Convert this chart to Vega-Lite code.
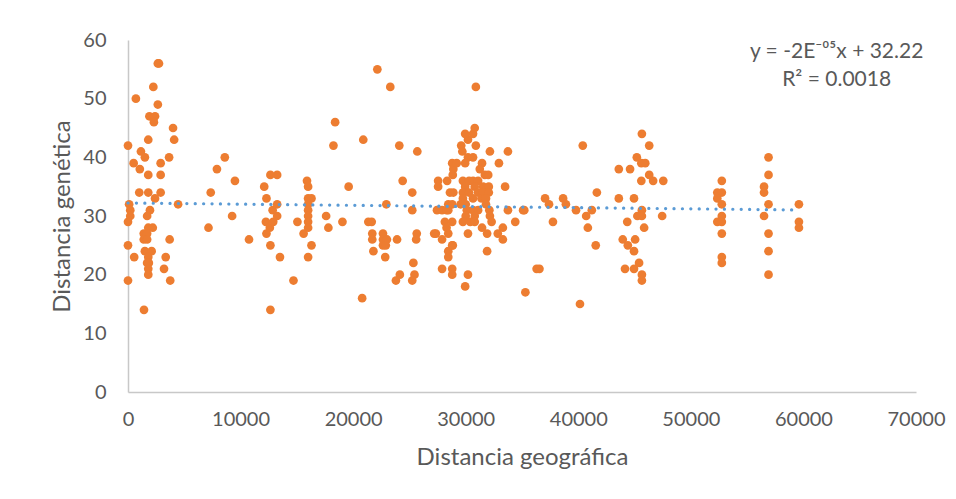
{
  "$schema": "https://vega.github.io/schema/vega-lite/v6.json",
  "width": 788,
  "height": 352,
  "autosize": {"type": "none"},
  "padding": {"left": 128, "top": 40, "right": 40, "bottom": 107},
  "background": "white",
  "config": {"view": {"stroke": null}, "font": "Lato"},
  "datasets": {
    "points": [
      {"geo":0,"gen":42},{"geo":100,"gen":32},{"geo":200,"gen":31},{"geo":200,"gen":30},{"geo":0,"gen":29},{"geo":0,"gen":25},{"geo":0,"gen":19},
      {"geo":700,"gen":50},{"geo":500,"gen":39},{"geo":550,"gen":23},{"geo":1150,"gen":41},{"geo":1500,"gen":40},{"geo":1050,"gen":38},{"geo":1000,"gen":34},
      {"geo":1800,"gen":34},{"geo":1800,"gen":37},{"geo":1800,"gen":43},{"geo":1900,"gen":47},{"geo":2400,"gen":47},{"geo":2250,"gen":52},{"geo":2300,"gen":46},
      {"geo":2650,"gen":49},{"geo":2650,"gen":56},{"geo":2750,"gen":56},{"geo":2400,"gen":33},{"geo":2900,"gen":34},{"geo":2900,"gen":39},{"geo":2900,"gen":37},
      {"geo":1950,"gen":31},{"geo":1700,"gen":30},{"geo":1800,"gen":28},{"geo":2200,"gen":28},{"geo":1400,"gen":27},{"geo":1700,"gen":27},{"geo":1400,"gen":26},
      {"geo":1700,"gen":26},{"geo":1500,"gen":24},{"geo":2100,"gen":24},{"geo":1800,"gen":23},{"geo":1700,"gen":22},{"geo":1850,"gen":22},{"geo":1800,"gen":21},
      {"geo":1800,"gen":20},{"geo":1420,"gen":14},{"geo":3650,"gen":40},{"geo":4000,"gen":45},{"geo":4100,"gen":43},{"geo":4450,"gen":32},{"geo":3700,"gen":26},
      {"geo":3350,"gen":23},{"geo":3200,"gen":21},{"geo":3750,"gen":19},
      {"geo":7150,"gen":28},{"geo":7350,"gen":34},{"geo":7900,"gen":38},{"geo":8600,"gen":40},{"geo":9500,"gen":36},{"geo":9250,"gen":30},{"geo":10750,"gen":26},
      {"geo":12100,"gen":35},{"geo":12300,"gen":33},{"geo":12250,"gen":29},{"geo":12300,"gen":27},{"geo":12600,"gen":28},{"geo":12650,"gen":37},{"geo":13250,"gen":37},
      {"geo":12650,"gen":25},{"geo":12650,"gen":14},{"geo":12850,"gen":31},{"geo":13250,"gen":32},{"geo":13250,"gen":30},{"geo":12900,"gen":29},{"geo":13500,"gen":23},
      {"geo":14700,"gen":19},{"geo":15050,"gen":29},{"geo":15600,"gen":27},{"geo":15900,"gen":36},{"geo":16000,"gen":35},{"geo":16000,"gen":33},{"geo":16300,"gen":33},
      {"geo":16000,"gen":32},{"geo":16000,"gen":31},{"geo":16000,"gen":30},{"geo":16000,"gen":29},{"geo":16000,"gen":28},{"geo":16300,"gen":25},{"geo":16000,"gen":23},
      {"geo":17600,"gen":30},{"geo":17800,"gen":28},{"geo":18250,"gen":42},{"geo":18400,"gen":46},{"geo":19050,"gen":29},{"geo":19600,"gen":35},{"geo":20800,"gen":16},
      {"geo":20900,"gen":43},{"geo":21350,"gen":29},{"geo":21650,"gen":29},{"geo":21700,"gen":27},{"geo":21700,"gen":26},{"geo":21800,"gen":24},{"geo":22150,"gen":55},
      {"geo":22650,"gen":27},{"geo":22650,"gen":26},{"geo":23000,"gen":26},{"geo":22650,"gen":25},{"geo":22900,"gen":25},{"geo":22950,"gen":32},{"geo":22850,"gen":23},
      {"geo":23300,"gen":52},{"geo":23900,"gen":26},{"geo":24100,"gen":42},{"geo":23800,"gen":19},{"geo":24150,"gen":20},{"geo":24400,"gen":36},{"geo":25250,"gen":34},
      {"geo":25250,"gen":31},{"geo":25350,"gen":22},{"geo":25450,"gen":20},{"geo":25250,"gen":19},{"geo":25700,"gen":41},{"geo":25650,"gen":27},{"geo":25600,"gen":26},
      {"geo":27350,"gen":27},{"geo":27550,"gen":36},{"geo":27550,"gen":35},{"geo":27450,"gen":31},{"geo":27900,"gen":31},{"geo":27900,"gen":26},{"geo":27900,"gen":21},
      {"geo":28350,"gen":36},{"geo":28800,"gen":39},{"geo":28900,"gen":38},{"geo":29200,"gen":39},{"geo":28600,"gen":34},{"geo":28900,"gen":34},{"geo":28450,"gen":31},
      {"geo":28150,"gen":29},{"geo":28800,"gen":29},{"geo":28450,"gen":27},{"geo":27200,"gen":27},{"geo":28800,"gen":25},{"geo":28450,"gen":24},{"geo":28450,"gen":23},
      {"geo":28800,"gen":21},{"geo":28800,"gen":20},{"geo":30900,"gen":52},{"geo":30800,"gen":45},{"geo":30650,"gen":44},{"geo":30200,"gen":43},{"geo":29950,"gen":44},
      {"geo":30900,"gen":42},{"geo":29600,"gen":42},{"geo":29700,"gen":41},{"geo":32150,"gen":41},{"geo":33750,"gen":41},{"geo":30200,"gen":40},{"geo":30650,"gen":40},
      {"geo":29950,"gen":39},{"geo":31450,"gen":39},{"geo":32950,"gen":39},{"geo":28850,"gen":37},{"geo":31250,"gen":38},{"geo":31700,"gen":37},{"geo":32000,"gen":37},
      {"geo":29750,"gen":36},{"geo":30300,"gen":36},{"geo":30650,"gen":36},{"geo":31100,"gen":36},{"geo":31550,"gen":35},{"geo":32050,"gen":35},{"geo":29950,"gen":35},
      {"geo":30800,"gen":35},{"geo":33500,"gen":35},{"geo":29750,"gen":34},{"geo":30300,"gen":34},{"geo":31100,"gen":34},{"geo":31550,"gen":34},{"geo":32050,"gen":34},
      {"geo":29750,"gen":33},{"geo":30650,"gen":33},{"geo":31400,"gen":33},{"geo":31800,"gen":33},{"geo":28450,"gen":32},{"geo":28800,"gen":32},{"geo":29550,"gen":32},
      {"geo":30000,"gen":32},{"geo":31800,"gen":32},{"geo":28300,"gen":31},{"geo":30100,"gen":31},{"geo":30650,"gen":31},{"geo":31100,"gen":31},{"geo":32100,"gen":31},
      {"geo":33750,"gen":31},{"geo":35100,"gen":31},{"geo":30000,"gen":30},{"geo":30800,"gen":30},{"geo":32150,"gen":30},{"geo":29750,"gen":29},{"geo":30400,"gen":29},
      {"geo":30800,"gen":29},{"geo":32300,"gen":29},{"geo":34400,"gen":29},{"geo":31450,"gen":28},{"geo":28300,"gen":28},{"geo":33300,"gen":28},{"geo":31900,"gen":27},
      {"geo":30200,"gen":27},{"geo":32850,"gen":27},{"geo":33300,"gen":26},{"geo":28850,"gen":25},{"geo":31900,"gen":24},{"geo":30200,"gen":20},{"geo":29950,"gen":18},
      {"geo":35300,"gen":17},{"geo":37050,"gen":33},{"geo":37400,"gen":32},{"geo":38650,"gen":33},{"geo":38900,"gen":32},{"geo":41650,"gen":34},{"geo":43600,"gen":33},
      {"geo":44950,"gen":33},{"geo":35200,"gen":31},{"geo":39800,"gen":31},{"geo":41200,"gen":31},{"geo":40700,"gen":30},{"geo":45650,"gen":31},{"geo":45250,"gen":30},
      {"geo":45650,"gen":30},{"geo":37750,"gen":29},{"geo":40850,"gen":28},{"geo":44350,"gen":29},{"geo":45850,"gen":28},{"geo":41550,"gen":25},{"geo":43950,"gen":26},
      {"geo":44400,"gen":25},{"geo":45050,"gen":26},{"geo":44950,"gen":24},{"geo":45400,"gen":22},{"geo":44150,"gen":21},{"geo":44950,"gen":21},{"geo":45650,"gen":20},
      {"geo":45650,"gen":19},{"geo":36300,"gen":21},{"geo":36550,"gen":21},{"geo":40150,"gen":15},{"geo":40400,"gen":42},{"geo":45650,"gen":44},{"geo":46300,"gen":42},
      {"geo":45200,"gen":40},{"geo":45600,"gen":39},{"geo":45950,"gen":39},{"geo":43600,"gen":38},{"geo":44600,"gen":38},{"geo":45600,"gen":36},{"geo":46300,"gen":37},
      {"geo":46650,"gen":36},{"geo":47550,"gen":36},{"geo":47450,"gen":30},
      {"geo":52750,"gen":36},{"geo":52350,"gen":34},{"geo":52750,"gen":34},{"geo":52350,"gen":33},{"geo":52750,"gen":32},{"geo":52750,"gen":30},{"geo":52350,"gen":29},
      {"geo":52750,"gen":29},{"geo":52750,"gen":27},{"geo":52750,"gen":23},{"geo":52750,"gen":22},
      {"geo":56900,"gen":40},{"geo":56900,"gen":37},{"geo":56500,"gen":35},{"geo":56500,"gen":34},{"geo":56900,"gen":32},{"geo":56500,"gen":30},{"geo":56900,"gen":27},
      {"geo":56900,"gen":24},{"geo":56900,"gen":20},
      {"geo":59600,"gen":32},{"geo":59600,"gen":29},{"geo":59600,"gen":28}
    ],
    "trend": [{"geo":0,"gen":32.22},{"geo":59600,"gen":31.03}],
    "eq": [{"geo":62950,"gen":57.9,"label":"y = -2E⁻⁰⁵x + 32.22"},{"geo":62950,"gen":53.2,"label":"R² = 0.0018"}]
  },
  "layer": [
    {
      "data": {"name": "points"},
      "mark": {"type": "circle", "size": 76, "color": "#ED7D31", "opacity": 1},
      "encoding": {
        "x": {"field": "geo", "type": "quantitative", "scale": {"domain": [0, 70000], "nice": false},
          "axis": {"title": "Distancia geográfica", "values": [0,10000,20000,30000,40000,50000,60000,70000], "format": "d",
            "grid": false, "ticks": false, "domainColor": "#C8C8C8", "domainWidth": 1.5,
            "labelColor": "#595959", "labelFontSize": 20, "labelPadding": 17, "labelFlush": false, "labelOverlap": false,
            "titleColor": "#595959", "titleFontSize": 24, "titleFontWeight": "normal", "titlePadding": 16}},
        "y": {"field": "gen", "type": "quantitative", "scale": {"domain": [0, 60], "nice": false},
          "axis": {"title": "Distancia genética", "values": [0,10,20,30,40,50,60],
            "grid": false, "ticks": false, "domainColor": "#C8C8C8", "domainWidth": 1.5,
            "labelColor": "#595959", "labelFontSize": 20, "labelPadding": 22, "labelFlush": false, "labelOverlap": false,
            "titleColor": "#595959", "titleFontSize": 24, "titleFontWeight": "normal", "titlePadding": 8}}
      }
    },
    {
      "data": {"name": "trend"},
      "mark": {"type": "line", "color": "#5B9BD5", "strokeWidth": 3.2, "strokeDash": [0.1, 8.3], "strokeCap": "round"},
      "encoding": {
        "x": {"field": "geo", "type": "quantitative"},
        "y": {"field": "gen", "type": "quantitative"}
      }
    },
    {
      "data": {"name": "eq"},
      "mark": {"type": "text", "fontSize": 21, "color": "#595959", "align": "center", "baseline": "middle"},
      "encoding": {
        "x": {"field": "geo", "type": "quantitative"},
        "y": {"field": "gen", "type": "quantitative"},
        "text": {"field": "label"}
      }
    }
  ]
}
